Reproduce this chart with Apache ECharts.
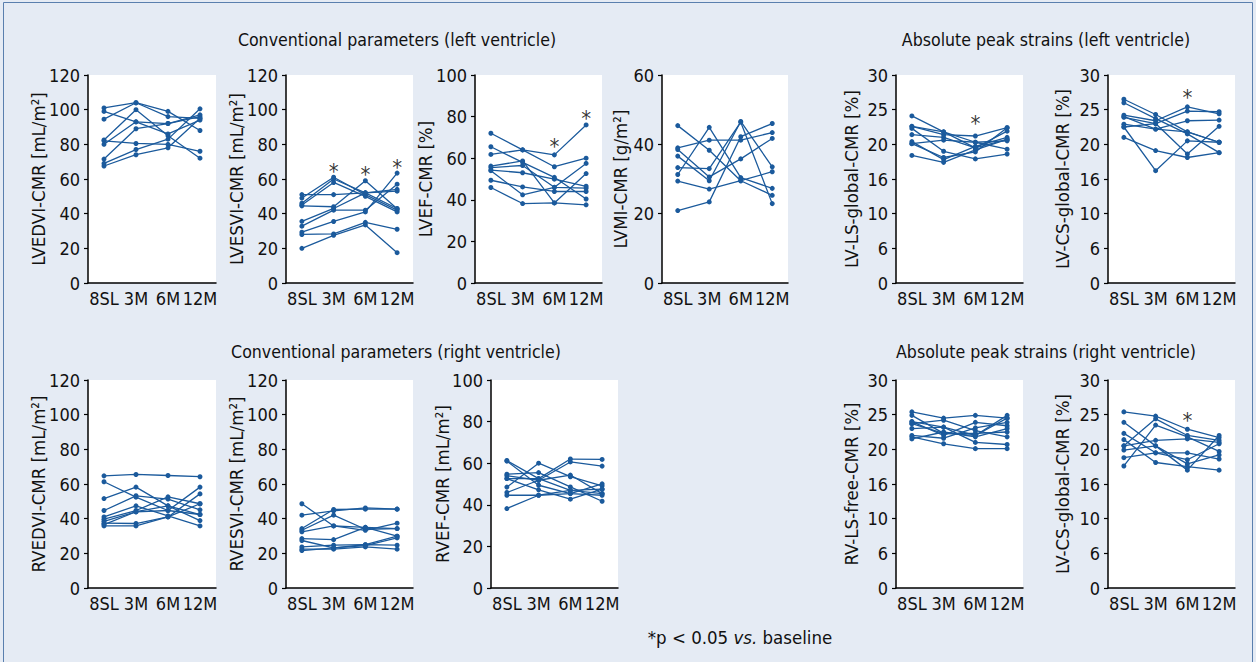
<!DOCTYPE html>
<html>
<head>
<meta charset="utf-8">
<script src="https://cdn.jsdelivr.net/npm/echarts@6/dist/echarts.min.js"></script>
<style>
  html, body { margin: 0; padding: 0; background: #e5ebf4; }
  #chart { width: 1256px; height: 662px; }
</style>
</head>
<body>
<div id="chart"></div>
<script>
// ---------- DATA ----------
const categories = ['8SL', '3M', '6M', '12M'];
const strainTickLabels = ['0', '6', '10', '16', '20', '25', '30'];

// each inner array = one patient: [8SL, 3M, 6M, 12M]
const lvedvi = [
  [101, 104, 99, 88], [99, 93, 92, 96], [94.5, 104, 96, 95], [82.5, 100, 85, 72],
  [82, 80.5, 80, 76], [80, 93, 86, 94], [71.5, 89, 92, 97], [69, 77, 83, 100.5], [67.5, 74, 78, 95]
];
const lvesvi = [
  [51, 51, 52, 53], [49, 61, 51, 42], [46, 60, 52, 43], [45, 58, 50, 41], [44.5, 44, 59, 42.8],
  [35.6, 43, 52, 54], [32.8, 42, 42, 57], [29.3, 35.5, 41, 63.4], [28, 28.3, 35, 31], [20, 27.5, 33.5, 17.5]
];
const lvef = [
  [72, 64, 61.6, 76], [65.5, 58, 50.8, 40.4], [61.8, 64, 55.9, 60], [56.2, 58.7, 38.5, 52.6],
  [55.5, 56.5, 46, 45.6], [54.3, 53, 49.9, 46.5], [49.4, 46.2, 44, 44], [45.9, 38.2, 38.5, 37.6], [54, 42.4, 46, 57.5]
];
const lvmi = [
  [45.4, 38.3, 29.5, 25.3], [39, 41.2, 41.2, 43.4], [36.6, 29.5, 46.6, 33.5], [33.3, 33, 46.4, 22.9],
  [31.3, 44.9, 30.4, 27.3], [29.4, 27.1, 29.5, 32.1], [20.9, 23.4, 42.2, 46], [38.5, 30.6, 35.8, 41.7]
];
const lvLsGlobal = [
  [24.1, 21.8, 20.3, 20.5], [22.6, 21.4, 21.2, 22.4], [22.3, 19, 17.9, 18.6], [21.4, 21, 19.5, 21.9],
  [20.4, 17.8, 19.7, 21], [20.1, 20.6, 20.3, 19.3], [18.4, 17.4, 19.2, 20.7], [20.1, 18.1, 18.9, 22.4], [22.6, 21.8, 19.5, 20.7]
];
const lvCsGlobalTop = [
  [26.5, 24.3, 21.8, 20.3], [26, 23.7, 21.5, 18.8], [24.2, 23.4, 25.4, 24.4], [23.9, 23, 24.8, 24.7],
  [22.9, 22.2, 23.4, 23.5], [22.5, 16.2, 20.5, 20.3], [21, 19.1, 18.1, 18.8], [22.5, 23, 18.6, 22.6], [24, 22.2, 21.8, 20.3]
];
const rvedvi = [
  [64.7, 65.5, 64.9, 64.2], [61.3, 52.4, 44.7, 42.4], [51.6, 58.2, 47.4, 38.9], [44.7, 53.2, 51.3, 45.1],
  [41, 47.4, 41.6, 35.8], [39.7, 44.7, 52.6, 48.6], [38.5, 43.9, 44.7, 58.2], [37.4, 37.2, 41, 54.3],
  [35.8, 35.8, 41, 48.6], [36.6, 44, 47.4, 42.4]
];
const rvesvi = [
  [48.6, 35.8, 35, 29.9], [42, 44.5, 46.2, 45.5], [33.3, 42, 33.9, 34.3], [32.4, 35.8, 33.3, 37.4],
  [28.5, 27.9, 35, 34.3], [27.4, 23.1, 24.5, 28.9], [23.7, 24.7, 25, 24.7], [22.4, 22.4, 23.7, 22.4],
  [21.6, 23.1, 25, 29.9], [34.3, 45.3, 45.5, 45.5]
];
const rvef = [
  [61.3, 52.6, 46.9, 45.4], [61, 49.4, 45.4, 44.6], [54.7, 55.5, 48.6, 41.7], [52.6, 52.6, 62, 61.8],
  [48.5, 60, 53.5, 49.1], [45.9, 51.8, 60.6, 58.6], [44.6, 44.6, 46.9, 47.5], [38.2, 44.6, 45.4, 50.1],
  [52.6, 47.2, 42.7, 47.5], [54, 51.8, 54.3, 45.4]
];
const rvLsFree = [
  [25.4, 24.5, 24.9, 24.5], [24.9, 22.3, 22, 24.9], [24, 22, 23.9, 23.4], [23.7, 24.2, 22.7, 21.8],
  [23, 23.2, 21, 20.7], [22, 21.6, 23.1, 23.9], [21.8, 20.8, 20.1, 20.1], [21.5, 22.5, 21.8, 23],
  [23.7, 22.3, 22.3, 22.5], [24, 23.2, 22, 24.5]
];
const lvCsGlobalBottom = [
  [25.4, 24.8, 22.9, 21.7], [23.9, 20.5, 17.9, 19.2], [22.3, 19.5, 18.5, 20.8], [21.4, 18.1, 17.5, 17],
  [20.5, 21.3, 21.5, 21], [19.9, 20.5, 17, 22], [18.8, 19.5, 19.5, 18.6], [17.6, 23.5, 21.8, 19.7],
  [20.5, 24.4, 22, 21.3]
];

// significance markers (*): [category, value]
const lvesviStars = [['3M', 65.5], ['6M', 64], ['12M', 68]];
const lvefStars = [['6M', 66.5], ['12M', 80]];
const lvLsStars = [['6M', 23.3]];
const lvCsTopStars = [['6M', 27.1]];
const lvCsBottomStars = [['6M', 24.5]];

const panelTitles = [
  'Conventional parameters (left ventricle)',
  'Absolute peak strains (left ventricle)',
  'Conventional parameters (right ventricle)',
  'Absolute peak strains (right ventricle)'
];
const footnote = ['*p < 0.05 ', 'vs.', ' baseline'];

// ---------- PANELS ----------
const panels = [
  { data: lvedvi, name: 'LVEDVI-CMR [mL/m²]', max: 120, interval: 20 },
  { data: lvesvi, name: 'LVESVI-CMR [mL/m²]', max: 120, interval: 20, stars: lvesviStars },
  { data: lvef, name: 'LVEF-CMR [%]', max: 100, interval: 20, stars: lvefStars },
  { data: lvmi, name: 'LVMI-CMR [g/m²]', max: 60, interval: 20 },
  { data: lvLsGlobal, name: 'LV-LS-global-CMR [%]', max: 30, interval: 5, strain: true, stars: lvLsStars },
  { data: lvCsGlobalTop, name: 'LV-CS-global-CMR [%]', max: 30, interval: 5, strain: true, stars: lvCsTopStars },
  { data: rvedvi, name: 'RVEDVI-CMR [mL/m²]', max: 120, interval: 20 },
  { data: rvesvi, name: 'RVESVI-CMR [mL/m²]', max: 120, interval: 20 },
  { data: rvef, name: 'RVEF-CMR [mL/m²]', max: 100, interval: 20 },
  { data: rvLsFree, name: 'RV-LS-free-CMR [%]', max: 30, interval: 5, strain: true },
  { data: lvCsGlobalBottom, name: 'LV-CS-global-CMR [%]', max: 30, interval: 5, strain: true, stars: lvCsBottomStars }
];
// layout (pixels): left, top, width, axis-name gap
const layout = [
  [88, 75, 128, 40], [286, 75, 127, 40], [475, 75, 127, 40], [662, 75, 126, 32], [896, 75, 127, 35], [1108, 75, 127, 36],
  [88, 380, 128, 40], [286, 380, 127, 40], [491, 380, 127, 39], [896, 380, 127, 35], [1108, 380, 127, 36]
];
const GRID_H = 208;

const FONT = '"Liberation Sans Narrow", "DejaVu Sans Condensed", "Liberation Sans", sans-serif';
const LINE_COLOR = '#1b5a9c';

const grids = [], xAxes = [], yAxes = [], series = [];
panels.forEach((p, i) => {
  const [l, t, w, gap] = layout[i];
  grids.push({ left: l, top: t, width: w, height: GRID_H, show: true, backgroundColor: '#ffffff', borderWidth: 0, containLabel: false });
  xAxes.push({
    type: 'category', gridIndex: i, data: categories, boundaryGap: true,
    axisLine: { lineStyle: { color: '#000', width: 1.5 } },
    axisTick: { alignWithLabel: true, length: 4, lineStyle: { color: '#000', width: 1.2 } },
    axisLabel: { color: '#111', fontFamily: FONT, fontSize: 18, margin: 6, interval: 0 },
    splitLine: { show: false }
  });
  yAxes.push({
    type: 'value', gridIndex: i, min: 0, max: p.max, interval: p.interval,
    name: p.name, nameLocation: 'middle', nameGap: gap, nameMoveOverlap: false,
    nameTextStyle: { color: '#111', fontFamily: FONT, fontSize: 18.5 },
    axisLine: { show: true, lineStyle: { color: '#000', width: 1.5 } },
    axisTick: { show: true, length: 4, lineStyle: { color: '#000', width: 1.2 } },
    axisLabel: {
      color: '#111', fontFamily: FONT, fontSize: 18, margin: 8,
      formatter: p.strain ? (v) => strainTickLabels[Math.round(v / 5)] : (v) => String(v)
    },
    splitLine: { show: false }
  });
  p.data.forEach((row) => {
    series.push({
      type: 'line', xAxisIndex: i, yAxisIndex: i, data: row,
      symbol: 'circle', symbolSize: 5, showSymbol: true,
      lineStyle: { color: LINE_COLOR, width: 1.3 },
      itemStyle: { color: LINE_COLOR },
      emphasis: { disabled: true }, silent: true
    });
  });
  if (p.stars) {
    series.push({
      type: 'scatter', xAxisIndex: i, yAxisIndex: i, data: p.stars,
      symbolSize: 1, itemStyle: { color: 'rgba(0,0,0,0)' }, silent: true,
      label: {
        show: true, position: 'inside', formatter: '*', color: '#000',
        textBorderWidth: 0, textBorderColor: 'transparent',
        fontFamily: FONT, fontSize: 22, offset: [0, 2]
      }
    });
  }
});

const titleStyle = { fontFamily: FONT, fontSize: 17.6, fill: '#111', textAlign: 'center', textVerticalAlign: 'middle' };
const graphics = [
  { type: 'rect', shape: { x: 3.5, y: 2.5, width: 1249, height: 670 }, style: { fill: 'none', stroke: '#5a7fae', lineWidth: 1 }, silent: true },
  { type: 'text', x: 397, y: 40, style: Object.assign({ text: panelTitles[0] }, titleStyle) },
  { type: 'text', x: 1046, y: 40, style: Object.assign({ text: panelTitles[1] }, titleStyle) },
  { type: 'text', x: 396, y: 352, style: Object.assign({ text: panelTitles[2] }, titleStyle) },
  { type: 'text', x: 1046, y: 352, style: Object.assign({ text: panelTitles[3] }, titleStyle) },
  {
    type: 'text', x: 740, y: 637,
    style: {
      text: '{a|' + footnote[0] + '}{b|' + footnote[1] + '}{a|' + footnote[2] + '}',
      textAlign: 'center', textVerticalAlign: 'middle',
      rich: {
        a: { fontFamily: FONT, fontSize: 18.5, fill: '#111' },
        b: { fontFamily: FONT, fontSize: 18.5, fontStyle: 'italic', fill: '#111' }
      }
    }
  }
];

const chart = echarts.init(document.getElementById('chart'), null, { renderer: 'svg' });
chart.setOption({
  backgroundColor: '#e5ebf4',
  animation: false,
  grid: grids, xAxis: xAxes, yAxis: yAxes, series: series,
  graphic: graphics
});
</script>
</body>
</html>
